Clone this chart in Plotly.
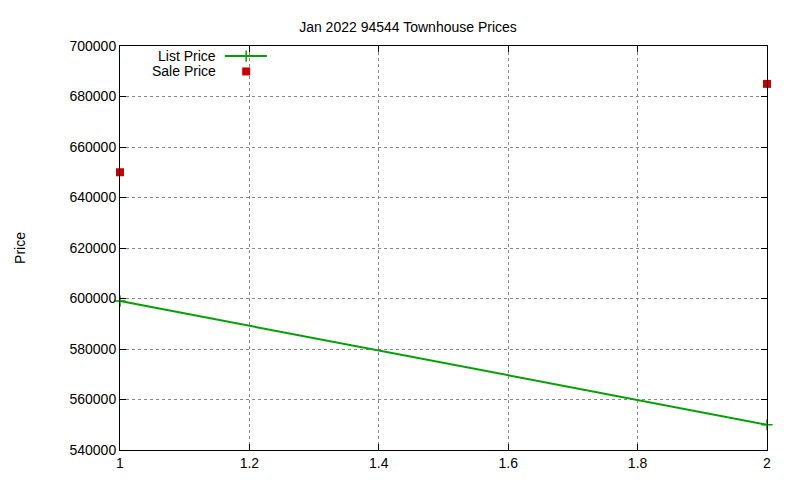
import plotly.graph_objects as go

x_vals = [1, 2]
list_price = [599000, 550000]
sale_price = [650000, 685000]
x_ticks = [1, 1.2, 1.4, 1.6, 1.8, 2]
y_ticks = [540000, 560000, 580000, 600000, 620000, 640000, 660000, 680000, 700000]

fig = go.Figure()
fig.add_trace(go.Scatter(x=x_vals, y=list_price, mode="lines+markers", name="List Price",
                         line=dict(color="#00a000", width=2),
                         marker=dict(symbol="cross-thin", size=8, line=dict(color="#00a000", width=1.5)),
                         cliponaxis=False))
fig.add_trace(go.Scatter(x=x_vals, y=sale_price, mode="markers", name="Sale Price",
                         marker=dict(symbol="square", size=8, color="#cc0000"),
                         cliponaxis=False))

font = dict(family="Liberation Sans, Arial", size=14, color="black")
axis = dict(showline=True, linecolor="black", linewidth=1, mirror="ticks", ticks="inside",
            ticklen=6, tickcolor="black", showgrid=True, gridcolor="#888888", griddash="dot",
            gridwidth=1, zeroline=False, tickfont=font)
fig.update_layout(
    width=800, height=480, plot_bgcolor="white", paper_bgcolor="white",
    margin=dict(l=112, r=41, t=38, b=38), showlegend=False,
    title=dict(text="Jan 2022 94544 Townhouse Prices", x=0.5, xanchor="center", y=0.97,
               font=dict(family="Liberation Sans, Arial", size=14, color="black")),
    xaxis=dict(range=[1, 2], tickvals=x_ticks, ticktext=["1", "1.2", "1.4", "1.6", "1.8", "2"], **axis),
    yaxis=dict(range=[540000, 700000], tickvals=y_ticks, ticktext=[str(v) for v in y_ticks],
               title=dict(text="Price", font=font, standoff=40), **axis),
)
# legend (gnuplot style: text left, sample right)
fig.add_annotation(xref="paper", yref="paper", x=0.152, y=0.975, text="List Price",
                   showarrow=False, xanchor="right", yanchor="middle", font=font)
fig.add_annotation(xref="paper", yref="paper", x=0.152, y=0.937, text="Sale Price",
                   showarrow=False, xanchor="right", yanchor="middle", font=font)
fig.add_shape(type="line", xref="paper", yref="paper", x0=0.162, x1=0.227, y0=0.975, y1=0.975,
              line=dict(color="#00a000", width=2))
fig.add_trace(go.Scatter(x=[0.195], y=[0.975], xaxis="x2", yaxis="y2", mode="markers",
                         marker=dict(symbol="cross-thin", size=8, line=dict(color="#00a000", width=1.5))))
fig.add_trace(go.Scatter(x=[0.195], y=[0.937], xaxis="x2", yaxis="y2", mode="markers",
                         marker=dict(symbol="square", size=8, color="#cc0000")))
fig.update_layout(xaxis2=dict(overlaying="x", range=[0, 1], visible=False),
                  yaxis2=dict(overlaying="y", range=[0, 1], visible=False))
fig.write_html("out.html")
